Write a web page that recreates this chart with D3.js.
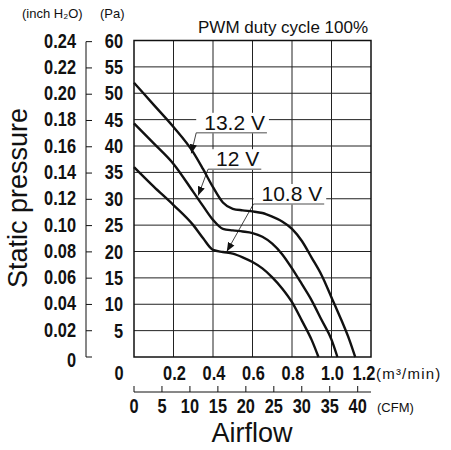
<!DOCTYPE html>
<html>
<head>
<meta charset="utf-8">
<script src="https://cdn.jsdelivr.net/npm/d3@7"></script>
<style>
  body { margin: 0; background: #fff; }
  svg { display: block; }
  .num { font-family: "Liberation Sans", Arial, sans-serif; font-size: 19.5px; font-weight: bold; fill: #111; }
  .unit { font-family: "Liberation Sans", Arial, sans-serif; font-size: 13px; fill: #111; }
  .big { font-family: "Liberation Sans", Arial, sans-serif; font-size: 27px; fill: #111; }
</style>
</head>
<body>
<div id="chart"></div>
<script>
// Airflow (m3/min) and static pressure (Pa)
const flow132 = [0, 0.1, 0.2, 0.3, 0.35, 0.4, 0.45, 0.5, 0.55, 0.6, 0.65, 0.7, 0.75, 0.8, 0.85, 0.9, 0.95, 1.0, 1.05, 1.09, 1.12];
const pres132 = [52, 47.8, 43.6, 38.8, 35.6, 32.2, 29.3, 28.1, 27.8, 27.6, 27.3, 26.6, 25.7, 24.3, 22, 18.8, 15.5, 11.3, 7, 3.3, 0];
const flow120 = [0, 0.1, 0.2, 0.3, 0.35, 0.4, 0.45, 0.5, 0.55, 0.6, 0.65, 0.7, 0.75, 0.8, 0.85, 0.9, 0.95, 1.0, 1.03];
const pres120 = [44.3, 40.5, 36.6, 31.3, 28.6, 26, 24.3, 24, 23.8, 23.5, 22.8, 21.5, 19.5, 16.8, 13.8, 10.7, 7, 3.3, 0];
const flow108 = [0, 0.1, 0.2, 0.3, 0.35, 0.4, 0.45, 0.5, 0.55, 0.6, 0.65, 0.7, 0.75, 0.8, 0.85, 0.9, 0.934];
const pres108 = [36, 32.3, 28.8, 25, 22.5, 20.3, 19.9, 19.6, 18.9, 18, 16.8, 15.1, 13, 10.4, 6.9, 3.2, 0];

const seriesNames = ['13.2 V', '12 V', '10.8 V'];
// arrow tips on each curve (m3/min, Pa)
const tipFlow = [0.29, 0.325, 0.47];
const tipPres = [38.6, 30.6, 20];
// label underline start (m3/min, Pa)
const labFlow = [0.315, 0.375, 0.605];
const labPres = [42.5, 35.6, 29.0];

const paTicks = [5, 10, 15, 20, 25, 30, 35, 40, 45, 50, 55, 60];
const inchTicks = [0, 0.02, 0.04, 0.06, 0.08, 0.10, 0.12, 0.14, 0.16, 0.18, 0.20, 0.22, 0.24];
const flowTicks = [0, 0.2, 0.4, 0.6, 0.8, 1.0, 1.2];
const cfmTicks = [0, 5, 10, 15, 20, 25, 30, 35, 40];

const W = 451, H = 450;
const PA_PER_INCH = 249.089;
const M3_PER_CFM = 0.0283168;
const SQUEEZE = 0.84; // narrow the tick numbers like a condensed face

const svg = d3.select('#chart').append('svg')
    .attr('width', W).attr('height', H);

const x = d3.scaleLinear().domain([0, 1.2]).range([134, 371]);
const y = d3.scaleLinear().domain([0, 60]).range([357, 40.5]);
const yInch = d3.scaleLinear().domain([0, 60 / PA_PER_INCH]).range([357, 40.5]);
const xCfm = d3.scaleLinear().domain([0, 1.2 / M3_PER_CFM]).range([134, 371]);

// condensed number text at (px, py)
function num(sel, px, py, anchor) {
    return sel.append('text')
        .attr('class', 'num')
        .attr('text-anchor', anchor)
        .attr('transform', (d, i) => `translate(${px(d, i)},${py(d, i)}) scale(${SQUEEZE},1)`);
}

// grid
const grid = svg.append('g').attr('stroke', '#222').attr('stroke-width', 1);
grid.selectAll('.vg').data(flowTicks.slice(1, -1)).enter().append('line')
    .attr('x1', d => x(d)).attr('x2', d => x(d))
    .attr('y1', y(0)).attr('y2', y(60));
grid.selectAll('.hg').data(paTicks.slice(0, -1)).enter().append('line')
    .attr('x1', x(0)).attr('x2', x(1.2))
    .attr('y1', d => y(d)).attr('y2', d => y(d));
svg.append('rect')
    .attr('x', x(0)).attr('y', y(60))
    .attr('width', x(1.2) - x(0)).attr('height', y(0) - y(60))
    .attr('fill', 'none').attr('stroke', '#111').attr('stroke-width', 1.5);

// curves
const line = d3.line()
    .x(d => x(d[0])).y(d => y(d[1]))
    .curve(d3.curveMonotoneX);
const curves = [d3.zip(flow132, pres132), d3.zip(flow120, pres120), d3.zip(flow108, pres108)];
svg.selectAll('.curve').data(curves).enter().append('path')
    .attr('d', line)
    .attr('fill', 'none').attr('stroke', '#111').attr('stroke-width', 2.4);

// arrowhead
svg.append('defs').append('marker')
    .attr('id', 'arr').attr('viewBox', '0 0 10 10')
    .attr('refX', 10).attr('refY', 5)
    .attr('markerWidth', 9).attr('markerHeight', 9)
    .attr('markerUnits', 'userSpaceOnUse')
    .attr('orient', 'auto')
    .append('path').attr('d', 'M0,1 L10,5 L0,9 Z').attr('fill', '#111');

// curve labels
seriesNames.forEach((name, i) => {
    const g = svg.append('g');
    const lx = x(labFlow[i]), ly = y(labPres[i]);
    const t = g.append('text')
        .attr('x', lx + 8).attr('y', ly - 3)
        .attr('font-family', '"Liberation Sans", Arial, sans-serif')
        .attr('font-size', 21).attr('fill', '#111')
        .text(name);
    const bb = t.node().getBBox();
    g.insert('rect', 'text')
        .attr('x', lx).attr('y', bb.y + 2)
        .attr('width', bb.width + 12).attr('height', ly - bb.y - 2)
        .attr('fill', '#fff');
    g.append('line')
        .attr('x1', lx).attr('x2', lx + bb.width + 10)
        .attr('y1', ly).attr('y2', ly)
        .attr('stroke', '#888').attr('stroke-width', 1.6);
    g.append('line')
        .attr('x1', lx).attr('y1', ly)
        .attr('x2', x(tipFlow[i])).attr('y2', y(tipPres[i]))
        .attr('stroke', '#111').attr('stroke-width', 0.8)
        .attr('marker-end', 'url(#arr)');
});

// pressure axes
num(svg.selectAll('.pa').data(paTicks).enter(), () => 123, d => y(d) + 7, 'end')
    .text(d => d);
svg.append('line')
    .attr('x1', 86).attr('x2', 86)
    .attr('y1', yInch(0.24)).attr('y2', yInch(0))
    .attr('stroke', '#111').attr('stroke-width', 1);
svg.selectAll('.it').data(inchTicks).enter().append('line')
    .attr('x1', 86).attr('x2', 92)
    .attr('y1', d => yInch(d)).attr('y2', d => yInch(d))
    .attr('stroke', '#111').attr('stroke-width', 1);
num(svg.selectAll('.il').data(inchTicks).enter(), () => 76, d => yInch(d) + (d === 0 ? 10 : 6), 'end')
    .text(d => d === 0 ? '0' : d.toFixed(2));
svg.append('text').attr('class', 'unit').attr('x', 22).attr('y', 18).text('(inch H₂O)');
svg.append('text').attr('class', 'unit').attr('x', 100).attr('y', 18).text('(Pa)');

// airflow axes
num(svg.selectAll('.fl').data(flowTicks).enter(),
    d => d === 0 ? 119 : Math.min(x(d) + 1, 364), () => 380, 'middle')
    .text(d => d === 0 ? '0' : d.toFixed(1));
svg.append('text')
    .attr('x', 376).attr('y', 379)
    .attr('font-family', '"Liberation Sans", Arial, sans-serif')
    .attr('font-size', 15).attr('letter-spacing', 1.2).attr('fill', '#111')
    .text('(m³/min)');

svg.append('line')
    .attr('x1', x(0)).attr('x2', x(1.2))
    .attr('y1', 392).attr('y2', 392)
    .attr('stroke', '#111').attr('stroke-width', 1);
svg.selectAll('.ct').data(cfmTicks).enter().append('line')
    .attr('x1', d => xCfm(d)).attr('x2', d => xCfm(d))
    .attr('y1', 392).attr('y2', 386)
    .attr('stroke', '#111').attr('stroke-width', 1);
num(svg.selectAll('.cl').data(cfmTicks).enter(), d => xCfm(d), () => 413, 'middle')
    .text(d => d);
svg.append('text')
    .attr('x', 377).attr('y', 412)
    .attr('font-family', '"Liberation Sans", Arial, sans-serif')
    .attr('font-size', 13).attr('fill', '#111')
    .text('(CFM)');

// titles
svg.append('text')
    .attr('x', 198).attr('y', 33)
    .attr('font-family', '"Liberation Sans", Arial, sans-serif')
    .attr('font-size', 17).attr('fill', '#111')
    .text('PWM duty cycle 100%');
svg.append('text').attr('class', 'big')
    .attr('x', 252).attr('y', 442).attr('text-anchor', 'middle')
    .text('Airflow');
svg.append('text').attr('class', 'big')
    .attr('transform', 'translate(27,198) rotate(-90)')
    .attr('text-anchor', 'middle')
    .text('Static pressure');
</script>
</body>
</html>
